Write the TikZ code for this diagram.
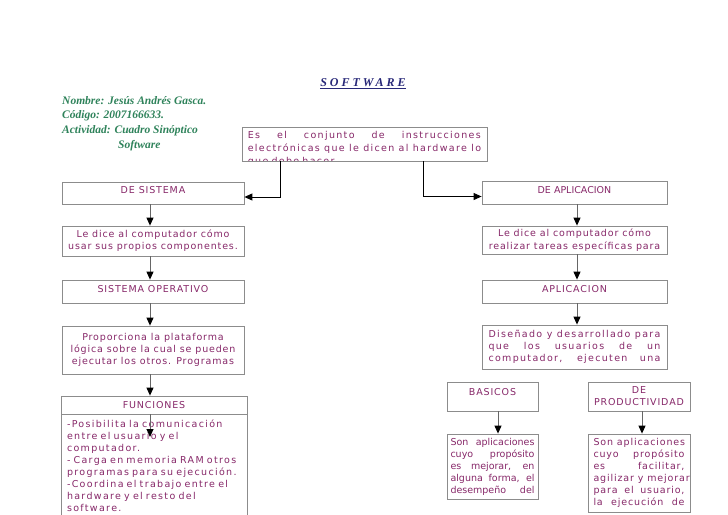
\documentclass[tikz,border=0pt]{standalone}
\usepackage{fontspec}
\setmainfont{Liberation Serif}
\newfontfamily\boxfont[LetterSpace=9]{DejaVu Sans}
\newfontfamily\widefont[LetterSpace=14]{DejaVu Sans}
\newfontfamily\plainfont{DejaVu Sans}
\newfontfamily\titlefont[LetterSpace=25]{Liberation Serif}
\usetikzlibrary{arrows.meta}
\definecolor{boxtext}{RGB}{135,40,105}
\definecolor{infogreen}{RGB}{46,130,90}
\definecolor{titleblue}{RGB}{40,40,120}
\newcommand\jl[2]{\leavevmode\hbox to #1{\spaceskip=\fontdimen2\font plus 1fil\relax #2}}
\tikzset{
  box/.style={draw=black!45, line width=0.8pt, fill=white, text=boxtext, font=\boxfont\fontsize{9.5}{12}\selectfont, align=center, inner xsep=5pt, inner ysep=2pt},
  plainbox/.style={box, font=\plainfont\fontsize{9.5}{12}\selectfont},
  widebox/.style={box, font=\widefont\fontsize{9.5}{12}\selectfont},
  link/.style={draw=black!60, line width=1pt, -{Triangle[width=7pt,length=8pt,color=black]}},
  elbow/.style={draw=black, line width=1pt, -{Triangle[width=7pt,length=8pt]}},
}

\begin{document}
\begin{tikzpicture}[x=1pt,y=-1pt]
			%%%%% START %%%%%
			\useasboundingbox (0,0) rectangle (728,514);
			\clip (0,0) rectangle (728,514);
			
			\node[text=titleblue, font=\titlefont\bfseries\itshape\fontsize{12}{14}\selectfont] (title) at (363,84) {\underline{SOFTWARE}};
			\node[anchor=north west, align=left, inner sep=0pt, text=infogreen, font=\bfseries\itshape\fontsize{11.5}{14.7}\selectfont] (info) at (62,96) {Nombre: Jesús Andrés Gasca.\\ Código: 2007166633.\\ Actividad: Cuadro Sinóptico\\ \hspace*{56pt}Software};
			
			\node[box, minimum width=245pt, minimum height=34pt] (def) at (364.5,144) {};
			\begin{scope}
				\clip (def.north west) rectangle ([yshift=0.5pt]def.south east);
				\node[anchor=north west, inner sep=0pt, text width=233pt, align=left, text=boxtext, font=\widefont\fontsize{9.5}{13}\selectfont] (deftext) at ([xshift=6pt,yshift=-4pt]def.north west) {\jl{233pt}{Es el conjunto de instrucciones}\\ \jl{233pt}{electrónicas que le dicen al hardware lo}\\ que debe hacer.};
			\end{scope}
			
			\node[box, minimum width=182pt, minimum height=22pt, text depth=6pt] (sis1) at (153,193) {DE SISTEMA};
			\node[box, minimum width=182pt, minimum height=30pt] (sis2) at (153,241) {Le dice al computador cómo\\ usar sus propios componentes.};
			\node[box, minimum width=182pt, minimum height=23pt, text depth=5pt] (sis3) at (153,291.5) {SISTEMA OPERATIVO};
			\node[box, minimum width=182pt, minimum height=48pt] (sis4) at (153,350) {Proporciona la plataforma\\ lógica sobre la cual se pueden\\ ejecutar los otros. Programas};
			\node[box, minimum width=186pt, minimum height=18pt] (fun) at (154,405) {FUNCIONES};
			\node[widebox, anchor=north, text width=174pt, align=left, inner xsep=6pt, inner ysep=5pt] (funbody) at (fun.south) {-Posibilita la comunicación\\ entre el usuario y el\\ computador.\\ - Carga en memoria RAM otros\\ programas para su ejecución.\\ -Coordina el trabajo entre el\\ hardware y el resto del\\ software.};
			
			\node[plainbox, minimum width=185pt, minimum height=23pt, text depth=5pt] (ap1) at (574.5,192.5) {DE APLICACION};
			\node[box, minimum width=185pt, minimum height=28pt, font=\boxfont\fontsize{9.5}{13}\selectfont] (ap2) at (574.5,240) {Le dice al computador cómo\\ realizar tareas específicas para};
			\node[box, minimum width=185pt, minimum height=23pt, text depth=5pt] (ap3) at (574.5,291.5) {APLICACION};
			\node[widebox, text width=172pt, inner xsep=6.5pt, minimum height=44pt, align=left] (ap4) at (574.5,347) {\jl{172pt}{Diseñado y desarrollado para}\\ \jl{172pt}{que los usuarios de un}\\ \jl{172pt}{computador, ejecuten una}};
			
			\node[box, minimum width=91pt, minimum height=29pt, text depth=9pt] (bas) at (492.5,396.5) {BASICOS};
			\node[plainbox, text width=84pt, inner xsep=3.5pt, minimum height=65pt, align=left] (basd) at (492.5,466.5) {\jl{84pt}{Son aplicaciones}\\ \jl{84pt}{cuyo propósito}\\ \jl{84pt}{es mejorar, en}\\ \jl{84pt}{alguna forma, el}\\ \jl{84pt}{desempeño del}};
			\node[box, minimum width=102pt, minimum height=29pt] (prod) at (639,396.5) {DE\\ PRODUCTIVIDAD};
			\node[box, text width=91pt, inner xsep=5.5pt, minimum height=78pt, align=left] (prodd) at (639,473) {\jl{91pt}{Son aplicaciones}\\ \jl{91pt}{cuyo propósito}\\ \jl{91pt}{es facilitar,}\\ \jl{91pt}{agilizar y mejorar}\\ \jl{91pt}{para el usuario,}\\ \jl{91pt}{la ejecución de}};
			
			\draw[elbow] ([xshift=-84.5pt]def.south) |- ([yshift=-4pt]sis1.east);
			\draw[elbow] ([xshift=58.5pt]def.south) |- ([yshift=-4pt]ap1.west);
			
			\draw[link] ([xshift=-3pt]sis1.south) -- ([xshift=-3pt]sis2.north);
			\draw[link] ([xshift=-3pt]sis2.south) -- ([xshift=-3pt]sis3.north);
			\draw[link] ([xshift=-3pt]sis3.south) -- ([xshift=-3pt]sis4.north);
			\draw[link] ([xshift=-3pt]sis4.south) -- ([xshift=-4pt]fun.north);
			\coordinate (funtip) at (150,437);
			\draw[link] ([xshift=-4pt]fun.south) -- (funtip);
			
			\draw[link] ([xshift=2.5pt]ap1.south) -- ([xshift=2.5pt]ap2.north);
			\draw[link] ([xshift=2.5pt]ap2.south) -- ([xshift=2.5pt]ap3.north);
			\draw[link] ([xshift=2.5pt]ap3.south) -- ([xshift=2.5pt]ap4.north);
			\draw[link] ([xshift=5.5pt]bas.south) -- ([xshift=5.5pt]basd.north);
			\draw[link] ([xshift=3pt]prod.south) -- ([xshift=3pt]prodd.north);
			%%%%% END %%%%%
\end{tikzpicture}
\end{document}
